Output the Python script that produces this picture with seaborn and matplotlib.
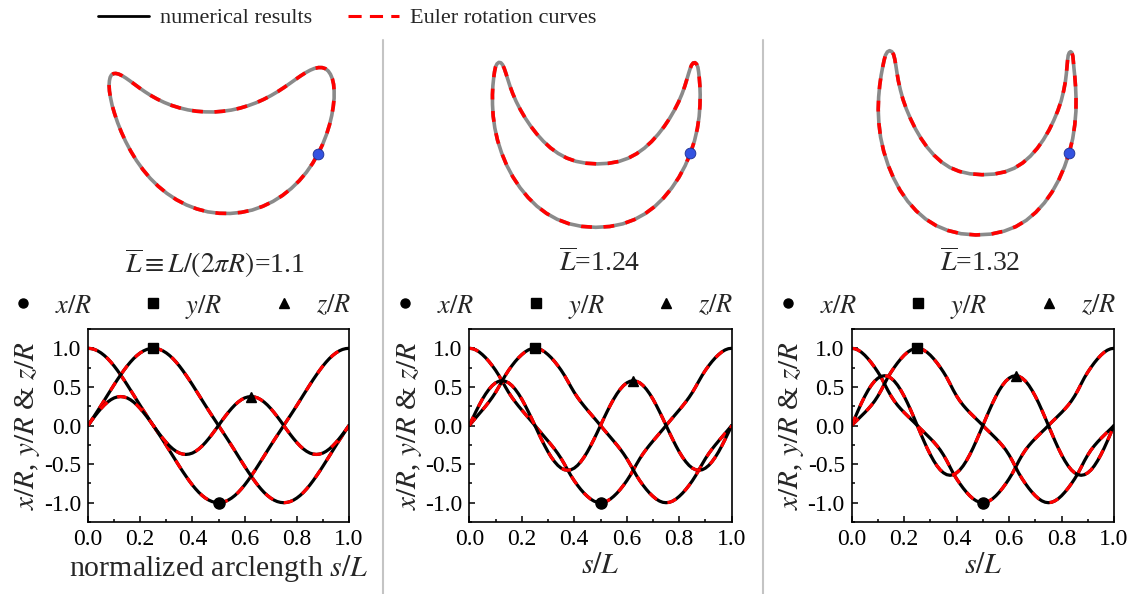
import numpy as np
import matplotlib
matplotlib.use('Agg')
import matplotlib.pyplot as plt
from matplotlib.lines import Line2D
from matplotlib.ticker import MultipleLocator, FormatStrFormatter
import seaborn as sns

# normalized arclength s/L
s = [0.0000, 0.0125, 0.0250, 0.0375, 0.0500, 0.0625, 0.0750, 0.0875, 0.1000, 0.1125,
     0.1250, 0.1375, 0.1500, 0.1625, 0.1750, 0.1875, 0.2000, 0.2125, 0.2250, 0.2375,
     0.2500, 0.2625, 0.2750, 0.2875, 0.3000, 0.3125, 0.3250, 0.3375, 0.3500, 0.3625,
     0.3750, 0.3875, 0.4000, 0.4125, 0.4250, 0.4375, 0.4500, 0.4625, 0.4750, 0.4875,
     0.5000, 0.5125, 0.5250, 0.5375, 0.5500, 0.5625, 0.5750, 0.5875, 0.6000, 0.6125,
     0.6250, 0.6375, 0.6500, 0.6625, 0.6750, 0.6875, 0.7000, 0.7125, 0.7250, 0.7375,
     0.7500, 0.7625, 0.7750, 0.7875, 0.8000, 0.8125, 0.8250, 0.8375, 0.8500, 0.8625,
     0.8750, 0.8875, 0.9000, 0.9125, 0.9250, 0.9375, 0.9500, 0.9625, 0.9750, 0.9875,
     1.0000]

# L = 1.1
x1 = [1.000, .996, .985, .966, .940, .907, .868, .822, .771, .715, .655, .593, .528, .461, .394, .326, .259, .193, .128, .064, .000,
      -.064, -.128, -.193, -.259, -.326, -.394, -.461, -.528, -.593, -.655, -.715, -.771, -.822, -.868, -.907, -.940, -.966, -.985, -.996, -1.000,
      -.996, -.985, -.966, -.940, -.907, -.868, -.822, -.771, -.715, -.655, -.593, -.528, -.461, -.394, -.326, -.259, -.193, -.128, -.064, .000,
      .064, .128, .193, .259, .326, .394, .461, .528, .593, .655, .715, .771, .822, .868, .907, .940, .966, .985, .996, 1.000]
y1 = [.000, .064, .128, .193, .259, .326, .394, .461, .528, .593, .655, .715, .771, .822, .868, .907, .940, .966, .985, .996, 1.000,
      .996, .985, .966, .940, .907, .868, .822, .771, .715, .655, .593, .528, .461, .394, .326, .259, .193, .128, .064, .000,
      -.064, -.128, -.193, -.259, -.326, -.394, -.461, -.528, -.593, -.655, -.715, -.771, -.822, -.868, -.907, -.940, -.966, -.985, -.996, -1.000,
      -.996, -.985, -.966, -.940, -.907, -.868, -.822, -.771, -.715, -.655, -.593, -.528, -.461, -.394, -.326, -.259, -.193, -.128, -.064, .000]
z1 = [0, .059, .116, .170, .220, .265, .303, .334, .357, .370, .375, .370, .357, .334, .303, .265, .220, .170, .116, .059, 0,
      -.059, -.116, -.170, -.220, -.265, -.303, -.334, -.357, -.370, -.375, -.370, -.357, -.334, -.303, -.265, -.220, -.170, -.116, -.059, 0,
      .059, .116, .170, .220, .265, .303, .334, .357, .370, .375, .370, .357, .334, .303, .265, .220, .170, .116, .059, 0,
      -.059, -.116, -.170, -.220, -.265, -.303, -.334, -.357, -.370, -.375, -.370, -.357, -.334, -.303, -.265, -.220, -.170, -.116, -.059, 0]

# L = 1.24
x2 = [1.000, .995, .979, .953, .918, .877, .829, .775, .716, .650, .576, .500, .428, .364, .306, .252, .201, .151, .101, .051, .000,
      -.051, -.101, -.151, -.201, -.252, -.306, -.364, -.428, -.500, -.576, -.650, -.716, -.775, -.829, -.877, -.918, -.953, -.979, -.995, -1.000,
      -.995, -.979, -.953, -.918, -.877, -.829, -.775, -.716, -.650, -.576, -.500, -.428, -.364, -.306, -.252, -.201, -.151, -.101, -.051, .000,
      .051, .101, .151, .201, .252, .306, .364, .428, .500, .576, .650, .716, .775, .829, .877, .918, .953, .979, .995, 1.000]
y2 = [.000, .051, .101, .151, .201, .252, .306, .364, .428, .500, .576, .650, .716, .775, .829, .877, .918, .953, .979, .995, 1.000,
      .995, .979, .953, .918, .877, .829, .775, .716, .650, .576, .500, .428, .364, .306, .252, .201, .151, .101, .051, .000,
      -.051, -.101, -.151, -.201, -.252, -.306, -.364, -.428, -.500, -.576, -.650, -.716, -.775, -.829, -.877, -.918, -.953, -.979, -.995, -1.000,
      -.995, -.979, -.953, -.918, -.877, -.829, -.775, -.716, -.650, -.576, -.500, -.428, -.364, -.306, -.252, -.201, -.151, -.101, -.051, .000]
z2 = [0, .091, .179, .263, .341, .410, .469, .517, .552, .573, .580, .573, .552, .517, .469, .410, .341, .263, .179, .091, 0,
      -.091, -.179, -.263, -.341, -.410, -.469, -.517, -.552, -.573, -.580, -.573, -.552, -.517, -.469, -.410, -.341, -.263, -.179, -.091, 0,
      .091, .179, .263, .341, .410, .469, .517, .552, .573, .580, .573, .552, .517, .469, .410, .341, .263, .179, .091, 0,
      -.091, -.179, -.263, -.341, -.410, -.469, -.517, -.552, -.573, -.580, -.573, -.552, -.517, -.469, -.410, -.341, -.263, -.179, -.091, 0]

# L = 1.32
x3 = [1.000, .994, .976, .948, .910, .864, .812, .754, .691, .621, .540, .457, .382, .317, .262, .213, .168, .126, .084, .043, .000,
      -.043, -.084, -.126, -.168, -.213, -.262, -.317, -.382, -.457, -.540, -.621, -.691, -.754, -.812, -.864, -.910, -.948, -.976, -.994, -1.000,
      -.994, -.976, -.948, -.910, -.864, -.812, -.754, -.691, -.621, -.540, -.457, -.382, -.317, -.262, -.213, -.168, -.126, -.084, -.043, .000,
      .043, .084, .126, .168, .213, .262, .317, .382, .457, .540, .621, .691, .754, .812, .864, .910, .948, .976, .994, 1.000]
y3 = [.000, .043, .084, .126, .168, .213, .262, .317, .382, .457, .540, .621, .691, .754, .812, .864, .910, .948, .976, .994, 1.000,
      .994, .976, .948, .910, .864, .812, .754, .691, .621, .540, .457, .382, .317, .262, .213, .168, .126, .084, .043, .000,
      -.043, -.084, -.126, -.168, -.213, -.262, -.317, -.382, -.457, -.540, -.621, -.691, -.754, -.812, -.864, -.910, -.948, -.976, -.994, -1.000,
      -.994, -.976, -.948, -.910, -.864, -.812, -.754, -.691, -.621, -.540, -.457, -.382, -.317, -.262, -.213, -.168, -.126, -.084, -.043, .000]
z3 = [0, .101, .199, .293, .379, .456, .522, .575, .613, .637, .645, .637, .613, .575, .522, .456, .379, .293, .199, .101, 0,
      -.101, -.199, -.293, -.379, -.456, -.522, -.575, -.613, -.637, -.645, -.637, -.613, -.575, -.522, -.456, -.379, -.293, -.199, -.101, 0,
      .101, .199, .293, .379, .456, .522, .575, .613, .637, .645, .637, .613, .575, .522, .456, .379, .293, .199, .101, 0,
      -.101, -.199, -.293, -.379, -.456, -.522, -.575, -.613, -.637, -.645, -.637, -.613, -.575, -.522, -.456, -.379, -.293, -.199, -.101, 0]

L_bar = ['1.1', '1.24', '1.32']
mark_idx = [40, 20, 50]     # points marked on x/R, y/R, z/R (s = 0.5, 0.25, 0.625)
ball_idx = 0                # blue bead on the 3D curve (s = 0)

sns.set_theme(style='ticks')
plt.rcParams['font.family'] = ['Liberation Serif', 'DejaVu Serif']
plt.rcParams['mathtext.fontset'] = 'stix'
plt.rcParams['axes.unicode_minus'] = False
plt.rcParams['axes.edgecolor'] = 'black'
plt.rcParams['xtick.color'] = 'black'
plt.rcParams['ytick.color'] = 'black'

W, H = 1136, 594
fig = plt.figure(figsize=(W / 100, H / 100), dpi=100)

panels = [(x1, y1, z1), (x2, y2, z2), (x3, y3, z3)]
ax_left = [88, 469.3, 851.7]
ax_width = [261, 262.4, 262.3]
leg_x = [-0.301, -0.295, -0.294]
# elevation, azimuth, z stretch, px per R at the centre plane
views = [(25.5, -49.4, 1.0, 116.8), (14.6, -44.5, 0.95, 120), (14.5, -43.0, 1.012, 118)]
origins = [(221, 118), (596.7, 129.3), (979.3, 128.8)]
eye_dist = 6.76             # camera distance in units of R (perspective view)
label_x = [215, 600, 980]
xlabels = ['normalized arclength $s/L$', '$s/L$', '$s/L$']

for i, (xv, yv, zv) in enumerate(panels):
    # ---- bottom: coordinates versus arclength
    ax = fig.add_axes([ax_left[i] / W, (H - 522) / H, ax_width[i] / W, 193 / H])
    for vals in (xv, yv, zv):
        sns.lineplot(x=s, y=vals, ax=ax, color='black', lw=2.3, sort=False)
        sns.lineplot(x=s, y=vals, ax=ax, color='red', lw=2.3, sort=False,
                     linestyle=(0, (3, 3.5)))
    for vals, k, m, ms in zip((xv, yv, zv), mark_idx, 'os^', (8, 7, 7.5)):
        ax.plot(s[k], vals[k], marker=m, color='black', ms=ms, ls='none', zorder=5)

    ax.set_xlim(0, 1)
    ax.set_ylim(-1.25, 1.25)
    ax.xaxis.set_major_locator(MultipleLocator(0.2))
    ax.xaxis.set_minor_locator(MultipleLocator(0.1))
    ax.yaxis.set_major_locator(MultipleLocator(0.5))
    ax.yaxis.set_minor_locator(MultipleLocator(0.25))
    ax.xaxis.set_major_formatter(FormatStrFormatter('%.1f'))
    ax.yaxis.set_major_formatter(FormatStrFormatter('%.1f'))
    ax.tick_params(which='both', direction='in', top=False, right=False,
                   labelsize=17, width=1.1)
    ax.tick_params(which='major', length=4.5, pad=5)
    ax.tick_params(which='minor', length=2.5)
    for sp in ax.spines.values():
        sp.set_linewidth(1.2)
        sp.set_color('black')
    ax.set_xlabel(xlabels[i], fontsize=21.5, labelpad=2)
    ax.set_ylabel('$x/R$, $y/R$ & $z/R$', fontsize=21, labelpad=1)

    handles = [Line2D([], [], ls='none', marker=m, color='black', ms=6.5) for m in 'os^']
    ax.legend(handles, ['$x/R$', '$y/R$', '$z/R$'], loc='center left',
              bbox_to_anchor=(leg_x[i], 1.1155), ncol=3, frameon=False, fontsize=19,
              handlelength=1.0, handletextpad=0.71, columnspacing=1.83,
              borderpad=0, borderaxespad=0)

    # ---- top: the closed curve in 3D
    elev, azim, kz, px_unit = views[i]
    S = 280
    zoom = px_unit * 3.7 * np.sqrt(2 + kz ** 2) / (1.9057 * S)
    focal = eye_dist * 1.85 * px_unit / (10 * S)
    ox, oy = origins[i]
    ax3 = fig.add_axes([(ox - 0.5135 * S) / W, ((H - oy) - 0.5135 * S) / H, S / W, S / H],
                       projection='3d', proj_type='persp', focal_length=focal,
                       computed_zorder=False)
    ax3.set_xlim(-1, 1)
    ax3.set_ylim(-1, 1)
    ax3.set_zlim(-1, 1)
    ax3.set_box_aspect((1, 1, kz), zoom=zoom)
    ax3.view_init(elev=elev, azim=azim)
    ax3.set_axis_off()
    ax3.patch.set_alpha(0)
    ax3.plot(xv, yv, zv, color='#8a8a8a', lw=2.6)
    ax3.plot(xv, yv, zv, color='red', lw=2.6, ls=(0, (3, 3.2)))
    ax3.scatter([xv[ball_idx]], [yv[ball_idx]], [zv[ball_idx]], s=60, color='#3352e0',
                edgecolor='#1c2d8f', linewidth=0.6, depthshade=False, zorder=10)

    if i == 0:
        txt = r'$\overline{L}\equiv L/(2\pi R)$=' + L_bar[i]
    else:
        txt = r'$\overline{L}$=' + L_bar[i]
    fig.text(label_x[i] / W, (H - 263) / H, txt, ha='center', va='center', fontsize=20)

# separators between the three columns
for xs in (383, 763):
    fig.add_artist(Line2D([xs / W, xs / W], [0, (H - 40) / H], color='#c4c4c4', lw=1.5))

top_handles = [Line2D([], [], color='black', lw=2),
               Line2D([], [], color='red', lw=2.2, ls=(0, (4.3, 2.7)))]
fig.legend(top_handles, ['numerical results', 'Euler rotation curves'], loc='center left',
           bbox_to_anchor=(98 / W, (H - 18) / H), ncol=2, frameon=False, fontsize=16,
           handlelength=2.3, handletextpad=0.5, columnspacing=1.6,
           borderpad=0, borderaxespad=0)

fig.savefig('out.png', dpi=100)
